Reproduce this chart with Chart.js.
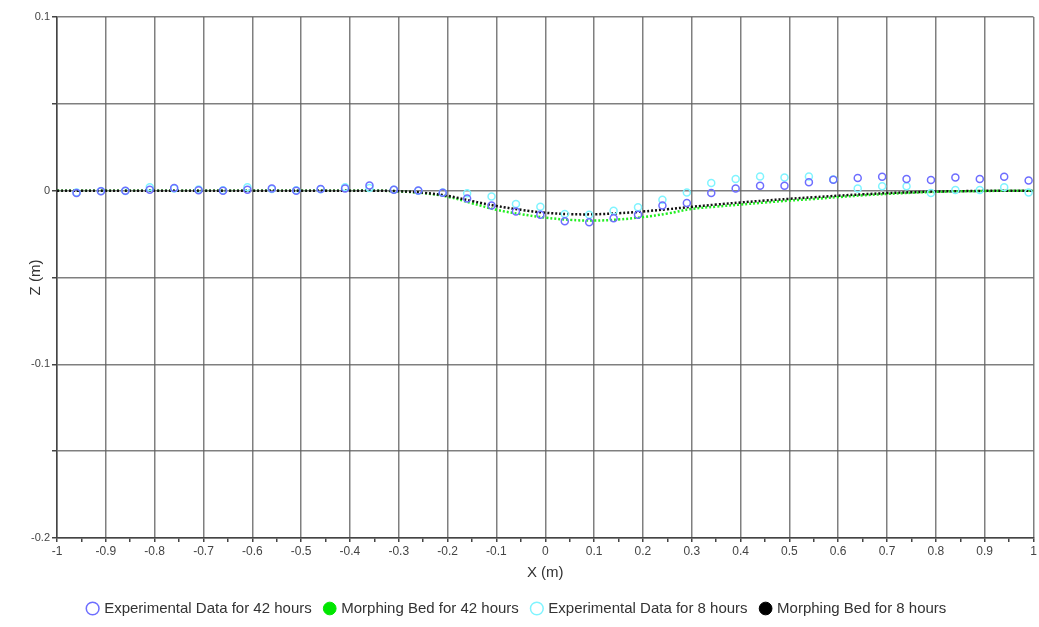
<!DOCTYPE html>
<html>
<head>
<meta charset="utf-8">
<script src="https://cdn.jsdelivr.net/npm/chart.js@4/dist/chart.umd.min.js"></script>
<style>
html,body{margin:0;padding:0;background:#fff;}
#wrap{width:1039px;height:627px;}
</style>
</head>
<body>
<div id="wrap"><canvas id="c" width="1039" height="627"></canvas></div>
<script>
// Experimental measurement positions (m)
const expX = [-0.96,-0.91,-0.86,-0.81,-0.76,-0.71,-0.66,-0.61,-0.56,-0.51,-0.46,-0.41,-0.36,-0.31,-0.26,-0.21,-0.16,-0.11,-0.06,-0.01,0.04,0.09,0.14,0.19,0.24,0.29,0.34,0.39,0.44,0.49,0.54,0.59,0.64,0.69,0.74,0.79,0.84,0.89,0.94,0.99];
// Experimental data for 42 hours (m)
const exp42 = [-0.0013,-0.0004,0.0000,0.0005,0.0015,0.0003,0.0000,0.0005,0.0013,0.0000,0.0010,0.0012,0.0030,0.0005,0.0001,-0.0012,-0.0045,-0.0086,-0.0120,-0.0138,-0.0176,-0.0182,-0.0159,-0.0138,-0.0086,-0.0071,-0.0013,0.0013,0.0029,0.0029,0.0048,0.0063,0.0073,0.0080,0.0067,0.0061,0.0076,0.0067,0.0080,0.0058];
// Experimental data for 8 hours (m)
const exp8 = [-0.0010,-0.0002,-0.0002,0.0020,0.0013,0.0006,0.0002,0.0020,0.0010,0.0002,0.0008,0.0020,0.0015,0.0005,0.0000,-0.0010,-0.0015,-0.0033,-0.0077,-0.0092,-0.0134,-0.0138,-0.0115,-0.0096,-0.0052,-0.0010,0.0044,0.0067,0.0082,0.0076,0.0082,0.0065,0.0013,0.0025,0.0025,-0.0013,0.0004,0.0004,0.0019,-0.0010];
// Morphing bed profile positions (m)
const bedX = [-1,-0.95,-0.9,-0.85,-0.8,-0.75,-0.7,-0.65,-0.6,-0.55,-0.5,-0.45,-0.4,-0.35,-0.3,-0.25,-0.2,-0.15,-0.1,-0.05,0,0.05,0.1,0.15,0.2,0.25,0.3,0.35,0.4,0.45,0.5,0.55,0.6,0.65,0.7,0.75,0.8,0.85,0.9,0.95,1];
// Morphing bed for 42 hours (m)
const bed42 = [0,0,0,0,0,0,0,0,0,0,0,0,0,0,-0.0004,-0.0014,-0.0035,-0.0072,-0.0110,-0.0135,-0.0155,-0.0168,-0.0172,-0.0166,-0.0152,-0.0132,-0.0105,-0.0092,-0.0080,-0.0068,-0.0057,-0.0048,-0.0037,-0.0027,-0.0019,-0.0012,-0.0007,-0.0004,-0.0002,0,0];
// Morphing bed for 8 hours (m)
const bed8 = [0,0,0,0,0,0,0,0,0,0,0,0,0,0,-0.0003,-0.0012,-0.0030,-0.0060,-0.0088,-0.0110,-0.0127,-0.0135,-0.0136,-0.0130,-0.0120,-0.0107,-0.0093,-0.0080,-0.0068,-0.0057,-0.0047,-0.0038,-0.0029,-0.0021,-0.0014,-0.0009,-0.0005,-0.0003,-0.0001,0,0];
const seriesNames = ['Experimental Data for 42 hours','Morphing Bed for 42 hours','Experimental Data for 8 hours','Morphing Bed for 8 hours'];
const xTitle = 'X (m)';
const yTitle = 'Z (m)';

const pts = (xs, ys) => xs.map((x, i) => ({x: x, y: ys[i]}));
const FONT = "'Liberation Sans', Arial, sans-serif";
const GRID = 'rgba(95,95,95,0.8)';
const isMajor = v => Math.round(v * 100) % 10 === 0;
const fmt = v => { const r = Math.round(v * 100); return r % 10 === 0 ? String(r / 100) : ''; };

new Chart(document.getElementById('c'), {
  type: 'scatter',
  data: {
    datasets: [
      { label: seriesNames[0], data: pts(expX, exp42), order: 0,
        pointStyle: 'circle', pointRadius: 3.5, pointBorderWidth: 1.5,
        pointBorderColor: '#6e6eff', pointBackgroundColor: 'rgba(255,255,255,0)', showLine: false },
      { label: seriesNames[1], data: pts(bedX, bed42), order: 3, showLine: true,
        borderColor: '#22ee22', borderWidth: 2.5, borderDash: [2, 2], tension: 0.4,
        pointRadius: 0, pointHoverRadius: 0, pointStyle: 'circle',
        pointBackgroundColor: '#00e600', pointBorderColor: '#00e600', pointBorderWidth: 1 },
      { label: seriesNames[2], data: pts(expX, exp8), order: 1,
        pointStyle: 'circle', pointRadius: 3.5, pointBorderWidth: 1.5,
        pointBorderColor: '#80f4ff', pointBackgroundColor: 'rgba(255,255,255,0)', showLine: false },
      { label: seriesNames[3], data: pts(bedX, bed8), order: 2, showLine: true,
        borderColor: '#111', borderWidth: 2.5, borderDash: [2, 2], tension: 0.4,
        pointRadius: 0, pointHoverRadius: 0, pointStyle: 'circle',
        pointBackgroundColor: '#000', pointBorderColor: '#000', pointBorderWidth: 1 }
    ]
  },
  options: {
    responsive: false,
    animation: false,
    events: [],
    layout: { padding: { left: 0, right: 4, top: 17, bottom: 1 } },
    plugins: {
      tooltip: { enabled: false },
      legend: {
        position: 'bottom',
        labels: {
          usePointStyle: true, boxWidth: 8, boxHeight: 9, padding: 14,
          color: '#333', font: { family: FONT, size: 15 },
          sort: (a, b) => a.datasetIndex - b.datasetIndex
        }
      }
    },
    scales: {
      x: {
        type: 'linear', min: -1, max: 1,
        afterFit: s => { s.height = 49; },
        ticks: { stepSize: 0.05, autoSkip: false, maxRotation: 0, padding: 2,
          color: '#444', font: { family: FONT, size: 12 }, callback: v => fmt(v) },
        grid: { color: c => (c.tick && isMajor(c.tick.value)) ? GRID : 'rgba(0,0,0,0)',
          tickColor: '#444', tickLength: 4, lineWidth: 1.5 },
        border: { color: '#444', width: 1.5 },
        title: { display: true, text: xTitle, color: '#333', font: { family: FONT, size: 15 },
          padding: { top: 0, bottom: 5 } }
      },
      y: {
        type: 'linear', min: -0.2, max: 0.1,
        afterFit: s => { s.width = 57; },
        ticks: { stepSize: 0.05, autoSkip: false, padding: 2,
          color: '#444', font: { family: FONT, size: 11 }, callback: v => fmt(v) },
        grid: { color: GRID, tickColor: '#444', tickLength: 5, lineWidth: 1.5 },
        border: { color: '#444', width: 1.5 },
        title: { display: true, text: yTitle, color: '#333', font: { family: FONT, size: 15 },
          padding: { top: 27, bottom: 0 } }
      }
    }
  }
});
</script>
</body>
</html>
